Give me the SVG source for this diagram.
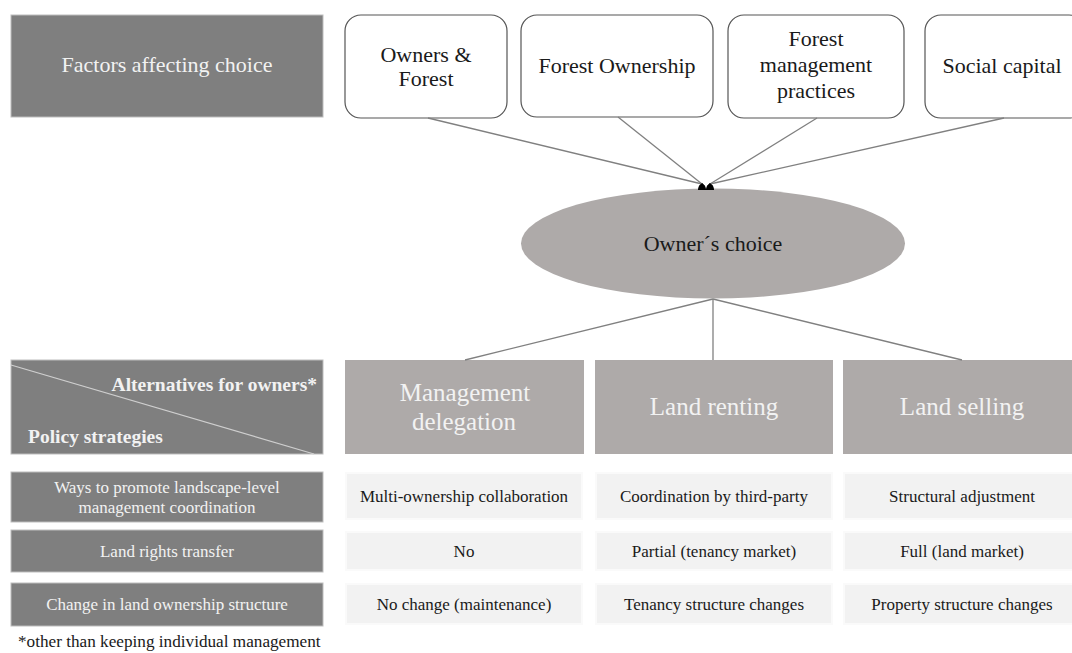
<svg xmlns="http://www.w3.org/2000/svg" width="1072" height="653" viewBox="0 0 1072 653">
<style>
text{text-anchor:middle}
.dark{fill:#7f7f7f;stroke:#bdbdbd;stroke-width:1}
.mid{fill:#aeaaa9}
.cell{fill:#f2f2f2;stroke:#fafafa;stroke-width:2}
.factor{fill:#fff;stroke:#555;stroke-width:1.2}
.lt{fill:#f2f2f2}
.dk{fill:#1a1a1a}
.conn{stroke:#808080;stroke-width:1.3;fill:none}
</style>
<defs>
<marker id="ah" viewBox="0 0 8 8" refX="4" refY="1" markerWidth="8" markerHeight="8" markerUnits="userSpaceOnUse" orient="0">
<path d="M4,0 L7,3 L8,7 L0,7 L1,3 z" fill="#000"/>
</marker>
</defs>
<rect width="1072" height="653" fill="#fff"/>
<g font-family="'Liberation Serif', 'Times New Roman', serif">
<g id="factors-header">
<rect class="dark" x="11" y="15" width="312" height="102"/>
<text class="lt" x="167" y="72" font-size="22">Factors affecting choice</text>
</g>
<g id="owners-forest">
<rect class="factor" x="345" y="15" width="162" height="103" rx="16"/>
<text class="dk" x="426" y="62" font-size="22">Owners &amp;</text>
<text class="dk" x="426" y="86" font-size="22">Forest</text>
</g>
<g id="forest-ownership">
<rect class="factor" x="521" y="15" width="192" height="102" rx="16"/>
<text class="dk" x="617" y="73" font-size="22">Forest Ownership</text>
</g>
<g id="forest-management">
<rect class="factor" x="728" y="15" width="176" height="103" rx="16"/>
<text class="dk" x="816" y="46" font-size="22">Forest</text>
<text class="dk" x="816" y="72" font-size="22">management</text>
<text class="dk" x="816" y="98" font-size="22">practices</text>
</g>
<g id="social-capital">
<rect class="factor" x="925" y="15" width="160" height="103" rx="16"/>
<text class="dk" x="1002" y="73" font-size="22">Social capital</text>
</g>

<g id="owners-choice">
<ellipse cx="713" cy="243.5" rx="192" ry="55" fill="#aeaaa9"/>
<text class="dk" x="713" y="251" font-size="22">Owner´s choice</text>
</g>

<g id="alt-header">
<rect class="dark" x="11" y="360" width="312" height="94"/>
<line x1="11" y1="365" x2="314" y2="454" stroke="#cfcfcf" stroke-width="1.2"/>
<text x="317" y="391" font-size="19.5" font-weight="bold" fill="#f2f2f2" style="text-anchor:end">Alternatives for owners*</text>
<text x="28" y="443" font-size="19.5" font-weight="bold" fill="#f2f2f2" style="text-anchor:start">Policy strategies</text>
</g>
<g id="management-delegation">
<rect class="mid" x="345" y="360" width="239" height="94"/>
<text class="lt" x="465" y="401" font-size="25">Management</text>
<text class="lt" x="464" y="430" font-size="25">delegation</text>
</g>
<g id="land-renting">
<rect class="mid" x="595" y="360" width="238" height="94"/>
<text class="lt" x="714" y="415" font-size="25">Land renting</text>
</g>
<g id="land-selling">
<rect class="mid" x="843" y="360" width="232" height="94"/>
<text class="lt" x="962" y="415" font-size="25">Land selling</text>
</g>

<g id="row-ways">
<rect class="dark" x="11" y="472" width="312" height="50"/>
<text class="lt" x="167" y="493" font-size="17">Ways to promote landscape-level</text>
<text class="lt" x="167" y="513" font-size="17">management coordination</text>
<rect class="cell" x="346" y="473" width="236" height="46"/>
<text class="dk" x="464" y="502" font-size="17">Multi-ownership collaboration</text>
<rect class="cell" x="596" y="473" width="236" height="46"/>
<text class="dk" x="714" y="502" font-size="17">Coordination by third-party</text>
<rect class="cell" x="844" y="473" width="230" height="46"/>
<text class="dk" x="962" y="502" font-size="17">Structural adjustment</text>
</g>
<g id="row-rights">
<rect class="dark" x="11" y="530" width="312" height="42"/>
<text class="lt" x="167" y="557" font-size="17">Land rights transfer</text>
<rect class="cell" x="346" y="532" width="236" height="38"/>
<text class="dk" x="464" y="557" font-size="17">No</text>
<rect class="cell" x="596" y="532" width="236" height="38"/>
<text class="dk" x="714" y="557" font-size="17">Partial (tenancy market)</text>
<rect class="cell" x="844" y="532" width="230" height="38"/>
<text class="dk" x="962" y="557" font-size="17">Full (land market)</text>
</g>
<g id="row-structure">
<rect class="dark" x="11" y="583" width="312" height="43"/>
<text class="lt" x="167" y="610" font-size="17">Change in land ownership structure</text>
<rect class="cell" x="346" y="584" width="236" height="40"/>
<text class="dk" x="464" y="610" font-size="17">No change (maintenance)</text>
<rect class="cell" x="596" y="584" width="236" height="40"/>
<text class="dk" x="714" y="610" font-size="17">Tenancy structure changes</text>
<rect class="cell" x="844" y="584" width="230" height="40"/>
<text class="dk" x="962" y="610" font-size="17">Property structure changes</text>
</g>
<g id="footnote">
<text class="dk" x="18" y="647" font-size="17.2" style="text-anchor:start">*other than keeping individual management</text>
</g>
</g>
<g id="connectors">
<line class="conn" x1="428" y1="118" x2="702" y2="184" marker-end="url(#ah)"/>
<line class="conn" x1="618" y1="117" x2="702" y2="184" marker-end="url(#ah)"/>
<line class="conn" x1="817" y1="118" x2="710" y2="184" marker-end="url(#ah)"/>
<line class="conn" x1="1004" y1="118" x2="710" y2="184" marker-end="url(#ah)"/>
<line class="conn" x1="713" y1="299" x2="465" y2="360"/>
<line class="conn" x1="713" y1="299" x2="713" y2="360"/>
<line class="conn" x1="713" y1="299" x2="962" y2="360"/>
</g>
</svg>
